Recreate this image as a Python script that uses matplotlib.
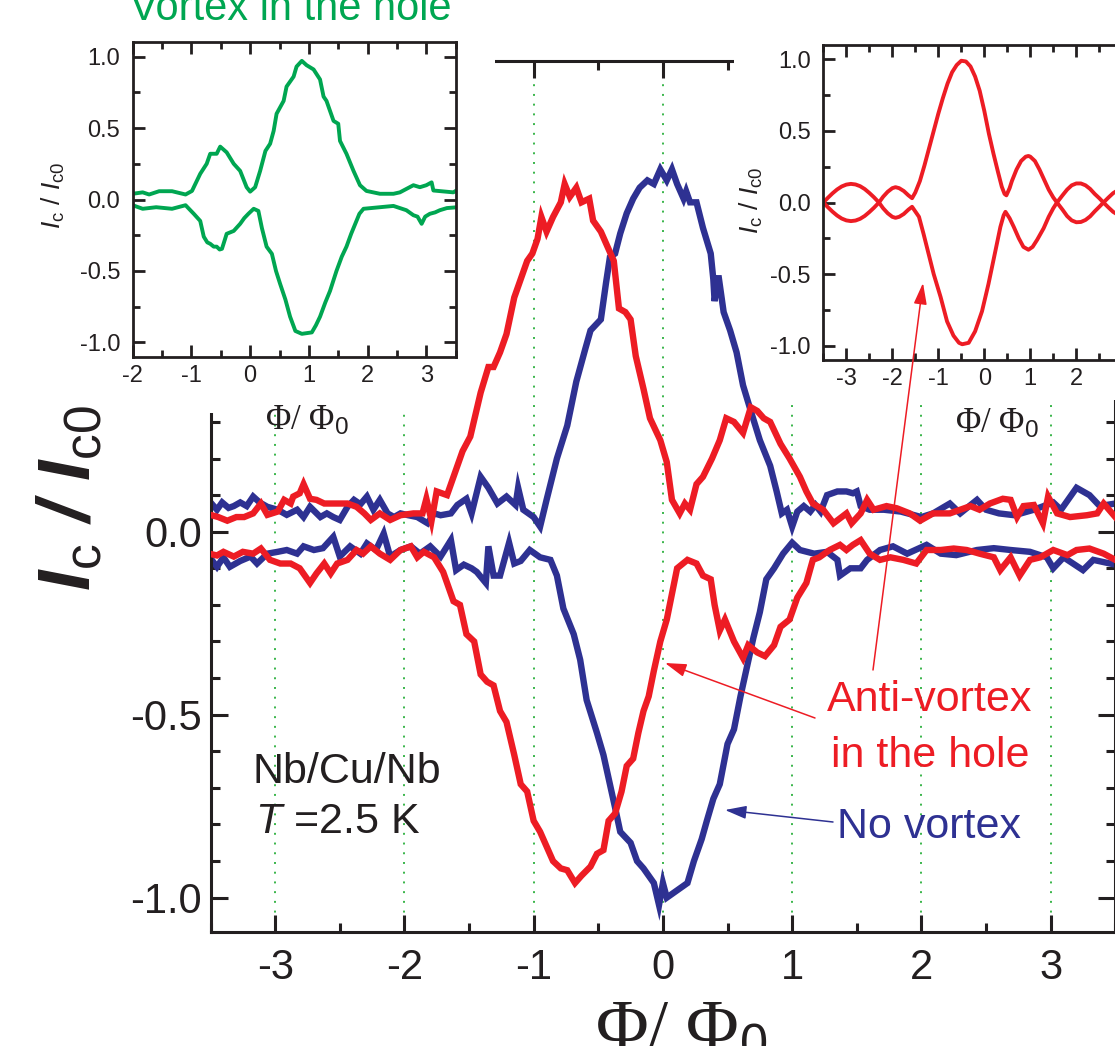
import numpy as np
import matplotlib.pyplot as plt
from matplotlib.patches import Rectangle, FancyArrowPatch
from matplotlib.ticker import MultipleLocator, FixedLocator, FormatStrFormatter

plt.rcParams['font.family'] = ['Liberation Sans', 'DejaVu Sans']
plt.rcParams['axes.unicode_minus'] = False
plt.rcParams['mathtext.fontset'] = 'custom'
plt.rcParams['mathtext.rm'] = 'Liberation Sans'
plt.rcParams['mathtext.it'] = 'Liberation Sans:italic'
plt.rcParams['mathtext.bf'] = 'Liberation Sans:bold'
HAS_BFIT = 'mathtext.bfit' in plt.rcParams
if HAS_BFIT:
    plt.rcParams['mathtext.bfit'] = 'Liberation Sans:italic:bold'

BLUE = '#2e3192'
RED = '#ed1c24'
GREEN = '#00a651'
GRID = '#39b54a'
DARK = '#231f20'

# main panel: Ic/Ic0 vs flux, (x, y) pairs
blue_upper = np.array([
    (-3.50, 0.080), (-3.45, 0.060), (-3.41, 0.080), (-3.36, 0.065), (-3.32, 0.070),
    (-3.27, 0.080), (-3.22, 0.070), (-3.17, 0.096), (-3.12, 0.080), (-3.06, 0.068),
    (-2.98, 0.060), (-2.91, 0.046), (-2.83, 0.060), (-2.78, 0.040), (-2.73, 0.068),
    (-2.65, 0.040), (-2.60, 0.050), (-2.55, 0.040), (-2.50, 0.032), (-2.44, 0.068),
    (-2.39, 0.087), (-2.34, 0.075), (-2.29, 0.096), (-2.24, 0.060), (-2.19, 0.087),
    (-2.13, 0.050), (-2.08, 0.040), (-2.03, 0.050), (-1.97, 0.045), (-1.90, 0.040),
    (-1.82, 0.023), (-1.77, 0.050), (-1.72, 0.045), (-1.64, 0.050), (-1.59, 0.073),
    (-1.52, 0.090), (-1.48, 0.050), (-1.41, 0.150), (-1.35, 0.120), (-1.28, 0.077),
    (-1.21, 0.096), (-1.14, 0.073), (-1.12, 0.120), (-1.08, 0.060), (-1.00, 0.040),
    (-0.95, 0.014), (-0.90, 0.087), (-0.82, 0.200), (-0.74, 0.290), (-0.67, 0.410),
    (-0.60, 0.500), (-0.56, 0.550), (-0.48, 0.580), (-0.44, 0.680), (-0.41, 0.750),
    (-0.37, 0.760), (-0.33, 0.815), (-0.28, 0.870), (-0.23, 0.910), (-0.18, 0.940),
    (-0.12, 0.960), (-0.07, 0.950), (-0.02, 0.990), (0.03, 0.960), (0.07, 0.990),
    (0.11, 0.950), (0.16, 0.910), (0.18, 0.930), (0.21, 0.900), (0.26, 0.900),
    (0.31, 0.830), (0.37, 0.760), (0.39, 0.690), (0.40, 0.630), (0.43, 0.700),
    (0.47, 0.600), (0.52, 0.550), (0.57, 0.490), (0.62, 0.400), (0.68, 0.330),
    (0.75, 0.250), (0.83, 0.180), (0.88, 0.110), (0.92, 0.050), (0.96, 0.060),
    (1.00, 0.014), (1.04, 0.055), (1.09, 0.070), (1.14, 0.055), (1.18, 0.073),
    (1.22, 0.055), (1.27, 0.100), (1.35, 0.110), (1.42, 0.110), (1.47, 0.105),
    (1.50, 0.110), (1.53, 0.070), (1.60, 0.060), (1.71, 0.060), (1.84, 0.055),
    (2.00, 0.040), (2.09, 0.050), (2.22, 0.077), (2.30, 0.050), (2.43, 0.087),
    (2.50, 0.060), (2.60, 0.050), (2.72, 0.045), (2.87, 0.060), (3.02, 0.080),
    (3.08, 0.060), (3.20, 0.120), (3.30, 0.100), (3.38, 0.070), (3.50, 0.077),
])

blue_lower = np.array([
    (-3.51, -0.068), (-3.45, -0.096), (-3.40, -0.070), (-3.35, -0.096), (-3.27, -0.080),
    (-3.19, -0.068), (-3.14, -0.087), (-3.06, -0.060), (-2.98, -0.055), (-2.91, -0.050),
    (-2.83, -0.060), (-2.78, -0.040), (-2.70, -0.050), (-2.63, -0.045), (-2.55, -0.014),
    (-2.50, -0.068), (-2.42, -0.040), (-2.34, -0.060), (-2.29, -0.032), (-2.22, -0.050),
    (-2.16, -0.005), (-2.11, -0.068), (-2.03, -0.050), (-1.95, -0.040), (-1.88, -0.060),
    (-1.80, -0.040), (-1.72, -0.068), (-1.67, -0.040), (-1.64, -0.023), (-1.60, -0.105),
    (-1.54, -0.090), (-1.48, -0.100), (-1.44, -0.110), (-1.37, -0.140), (-1.35, -0.040),
    (-1.31, -0.120), (-1.26, -0.120), (-1.19, -0.030), (-1.15, -0.087), (-1.10, -0.080),
    (-1.03, -0.050), (-0.95, -0.070), (-0.87, -0.077), (-0.82, -0.120), (-0.77, -0.210),
    (-0.69, -0.280), (-0.64, -0.350), (-0.59, -0.460), (-0.51, -0.550), (-0.46, -0.610),
    (-0.41, -0.690), (-0.36, -0.770), (-0.33, -0.820), (-0.25, -0.850), (-0.20, -0.900),
    (-0.15, -0.920), (-0.07, -0.960), (-0.03, -1.020), (0.00, -0.960), (0.03, -1.000),
    (0.11, -0.980), (0.19, -0.960), (0.24, -0.900), (0.30, -0.840), (0.34, -0.790),
    (0.39, -0.730), (0.44, -0.690), (0.50, -0.580), (0.55, -0.540), (0.60, -0.450),
    (0.65, -0.370), (0.70, -0.290), (0.75, -0.220), (0.80, -0.130), (0.86, -0.100),
    (0.93, -0.060), (1.00, -0.030), (1.06, -0.050), (1.17, -0.060), (1.27, -0.055),
    (1.35, -0.077), (1.37, -0.120), (1.45, -0.100), (1.53, -0.100), (1.58, -0.077),
    (1.68, -0.050), (1.78, -0.040), (1.89, -0.060), (2.04, -0.036), (2.15, -0.060),
    (2.27, -0.064), (2.43, -0.050), (2.56, -0.045), (2.69, -0.050), (2.84, -0.055),
    (2.97, -0.070), (3.02, -0.100), (3.10, -0.070), (3.25, -0.105), (3.33, -0.077),
    (3.50, -0.090),
])

red_upper = np.array([
    (-3.50, 0.046), (-3.44, 0.040), (-3.37, 0.030), (-3.30, 0.040), (-3.24, 0.040),
    (-3.17, 0.050), (-3.11, 0.077), (-3.06, 0.046), (-2.98, 0.055), (-2.93, 0.087),
    (-2.88, 0.077), (-2.86, 0.096), (-2.81, 0.105), (-2.78, 0.130), (-2.73, 0.090),
    (-2.68, 0.087), (-2.62, 0.077), (-2.55, 0.077), (-2.44, 0.077), (-2.37, 0.068),
    (-2.31, 0.050), (-2.26, 0.032), (-2.19, 0.050), (-2.11, 0.032), (-2.03, 0.045),
    (-1.93, 0.050), (-1.86, 0.050), (-1.83, 0.090), (-1.79, 0.030), (-1.75, 0.110),
    (-1.67, 0.100), (-1.62, 0.150), (-1.55, 0.220), (-1.49, 0.260), (-1.41, 0.380),
    (-1.35, 0.450), (-1.31, 0.450), (-1.26, 0.490), (-1.21, 0.540), (-1.15, 0.640),
    (-1.10, 0.690), (-1.05, 0.740), (-1.01, 0.760), (-0.97, 0.800), (-0.94, 0.860),
    (-0.90, 0.820), (-0.85, 0.860), (-0.79, 0.900), (-0.76, 0.950), (-0.72, 0.915),
    (-0.67, 0.940), (-0.63, 0.900), (-0.57, 0.910), (-0.54, 0.850), (-0.48, 0.820),
    (-0.43, 0.780), (-0.38, 0.740), (-0.34, 0.610), (-0.29, 0.600), (-0.25, 0.580),
    (-0.21, 0.480), (-0.15, 0.390), (-0.10, 0.310), (-0.02, 0.250), (0.03, 0.190),
    (0.07, 0.087), (0.13, 0.050), (0.17, 0.077), (0.21, 0.060), (0.26, 0.130),
    (0.31, 0.150), (0.38, 0.200), (0.44, 0.250), (0.49, 0.310), (0.55, 0.300),
    (0.62, 0.270), (0.68, 0.340), (0.73, 0.330), (0.78, 0.310), (0.83, 0.300),
    (0.91, 0.240), (0.98, 0.200), (1.06, 0.150), (1.11, 0.110), (1.16, 0.077),
    (1.24, 0.060), (1.32, 0.023), (1.42, 0.050), (1.46, 0.023), (1.53, 0.050),
    (1.58, 0.087), (1.63, 0.060), (1.73, 0.070), (1.81, 0.064), (1.91, 0.050),
    (1.99, 0.030), (2.09, 0.050), (2.22, 0.050), (2.38, 0.070), (2.45, 0.060),
    (2.53, 0.077), (2.63, 0.090), (2.69, 0.087), (2.74, 0.040), (2.79, 0.070),
    (2.87, 0.073), (2.94, 0.023), (2.98, 0.096), (3.05, 0.050), (3.15, 0.040),
    (3.28, 0.045), (3.36, 0.050), (3.41, 0.077), (3.50, 0.040),
])

red_lower = np.array([
    (-3.51, -0.060), (-3.45, -0.065), (-3.40, -0.055), (-3.32, -0.068), (-3.25, -0.055),
    (-3.17, -0.060), (-3.11, -0.046), (-3.04, -0.077), (-2.96, -0.087), (-2.88, -0.087),
    (-2.81, -0.100), (-2.73, -0.140), (-2.68, -0.114), (-2.62, -0.087), (-2.57, -0.114),
    (-2.52, -0.087), (-2.44, -0.077), (-2.37, -0.050), (-2.32, -0.060), (-2.26, -0.040),
    (-2.19, -0.060), (-2.11, -0.077), (-2.03, -0.050), (-1.95, -0.040), (-1.90, -0.070),
    (-1.85, -0.055), (-1.77, -0.070), (-1.70, -0.110), (-1.62, -0.190), (-1.57, -0.200),
    (-1.52, -0.280), (-1.46, -0.300), (-1.41, -0.390), (-1.36, -0.410), (-1.31, -0.420),
    (-1.26, -0.490), (-1.21, -0.520), (-1.15, -0.610), (-1.10, -0.690), (-1.05, -0.710),
    (-1.00, -0.790), (-0.95, -0.820), (-0.90, -0.860), (-0.85, -0.900), (-0.79, -0.920),
    (-0.74, -0.925), (-0.68, -0.960), (-0.63, -0.940), (-0.56, -0.915), (-0.51, -0.880),
    (-0.46, -0.870), (-0.42, -0.790), (-0.37, -0.770), (-0.32, -0.710), (-0.28, -0.640),
    (-0.23, -0.620), (-0.19, -0.550), (-0.15, -0.490), (-0.11, -0.450), (-0.07, -0.380),
    (-0.02, -0.300), (0.03, -0.240), (0.07, -0.170), (0.11, -0.100), (0.19, -0.077),
    (0.26, -0.087), (0.31, -0.120), (0.37, -0.130), (0.40, -0.200), (0.44, -0.270),
    (0.48, -0.240), (0.55, -0.300), (0.62, -0.345), (0.66, -0.310), (0.73, -0.330),
    (0.79, -0.340), (0.86, -0.310), (0.91, -0.260), (0.98, -0.240), (1.04, -0.180),
    (1.11, -0.140), (1.16, -0.077), (1.21, -0.070), (1.29, -0.050), (1.37, -0.036),
    (1.42, -0.050), (1.47, -0.036), (1.53, -0.023), (1.60, -0.060), (1.68, -0.077),
    (1.76, -0.070), (1.86, -0.077), (1.96, -0.087), (2.04, -0.050), (2.15, -0.050),
    (2.25, -0.046), (2.35, -0.050), (2.45, -0.060), (2.56, -0.070), (2.61, -0.105),
    (2.69, -0.070), (2.76, -0.120), (2.84, -0.077), (2.92, -0.070), (3.02, -0.050),
    (3.13, -0.064), (3.20, -0.050), (3.30, -0.046), (3.41, -0.060), (3.50, -0.077),
])

# left inset: vortex in the hole
green_upper = np.array([
    (-2.00, 0.040), (-1.83, 0.050), (-1.72, 0.035), (-1.55, 0.058), (-1.33, 0.058),
    (-1.10, 0.035), (-0.99, 0.060), (-0.96, 0.086), (-0.85, 0.180), (-0.74, 0.250),
    (-0.68, 0.320), (-0.57, 0.320), (-0.51, 0.370), (-0.40, 0.330), (-0.28, 0.250),
    (-0.17, 0.200), (-0.06, 0.086), (0.00, 0.055), (0.085, 0.086), (0.17, 0.200),
    (0.26, 0.340), (0.34, 0.390), (0.40, 0.480), (0.45, 0.600), (0.57, 0.690),
    (0.62, 0.790), (0.74, 0.860), (0.79, 0.930), (0.88, 0.970), (0.96, 0.940),
    (1.08, 0.910), (1.19, 0.840), (1.25, 0.720), (1.30, 0.690), (1.42, 0.550),
    (1.50, 0.530), (1.53, 0.410), (1.64, 0.320), (1.76, 0.200), (1.87, 0.100),
    (1.98, 0.060), (2.21, 0.040), (2.44, 0.040), (2.55, 0.050), (2.78, 0.100),
    (2.89, 0.086), (3.00, 0.100), (3.09, 0.120), (3.12, 0.063), (3.46, 0.050),
    (3.50, 0.060),
])

green_lower = np.array([
    (-2.00, -0.040), (-1.83, -0.065), (-1.60, -0.054), (-1.33, -0.065), (-1.10, -0.040),
    (-0.96, -0.100), (-0.85, -0.150), (-0.79, -0.260), (-0.73, -0.300), (-0.68, -0.310),
    (-0.62, -0.330), (-0.57, -0.330), (-0.52, -0.350), (-0.48, -0.345), (-0.43, -0.280),
    (-0.40, -0.240), (-0.28, -0.220), (-0.17, -0.170), (-0.10, -0.130), (-0.03, -0.100),
    (0.06, -0.065), (0.14, -0.080), (0.20, -0.200), (0.28, -0.330), (0.37, -0.380),
    (0.44, -0.500), (0.51, -0.590), (0.60, -0.700), (0.68, -0.820), (0.77, -0.920),
    (0.88, -0.940), (1.05, -0.930), (1.12, -0.880), (1.19, -0.820), (1.28, -0.720),
    (1.36, -0.640), (1.47, -0.500), (1.56, -0.400), (1.64, -0.330), (1.72, -0.240),
    (1.79, -0.170), (1.86, -0.100), (1.93, -0.065), (2.21, -0.054), (2.44, -0.045),
    (2.55, -0.060), (2.66, -0.075), (2.78, -0.110), (2.85, -0.120), (2.92, -0.170),
    (2.98, -0.120), (3.06, -0.100), (3.15, -0.090), (3.23, -0.075), (3.35, -0.060),
    (3.50, -0.055),
])

# right inset: calculated anti-vortex pattern
calc_upper = np.array([
    (-3.50, 0.000), (-3.40, 0.033), (-3.30, 0.064), (-3.20, 0.091), (-3.10, 0.112),
    (-3.00, 0.125), (-2.90, 0.130), (-2.80, 0.126), (-2.70, 0.114), (-2.60, 0.094),
    (-2.50, 0.067), (-2.40, 0.037), (-2.29, 0.000), (-2.20, 0.040), (-2.10, 0.075),
    (-2.00, 0.100), (-1.93, 0.107), (-1.85, 0.100), (-1.75, 0.080), (-1.65, 0.050),
    (-1.57, 0.030), (-1.50, 0.070), (-1.40, 0.150), (-1.30, 0.260), (-1.20, 0.380),
    (-1.10, 0.500), (-1.00, 0.620), (-0.90, 0.730), (-0.80, 0.830), (-0.70, 0.910),
    (-0.60, 0.960), (-0.50, 0.990), (-0.40, 0.985), (-0.30, 0.950), (-0.20, 0.880),
    (-0.10, 0.780), (0.00, 0.640), (0.10, 0.480), (0.20, 0.340), (0.30, 0.210),
    (0.38, 0.110), (0.44, 0.060), (0.48, 0.050), (0.55, 0.100), (0.60, 0.150),
    (0.70, 0.230), (0.80, 0.290), (0.90, 0.320), (0.96, 0.325), (1.00, 0.320),
    (1.10, 0.290), (1.20, 0.230), (1.30, 0.160), (1.40, 0.090), (1.50, 0.035),
    (1.58, 0.000), (1.70, 0.050), (1.80, 0.090), (1.90, 0.120), (2.00, 0.133),
    (2.10, 0.133), (2.20, 0.120), (2.30, 0.095), (2.40, 0.060), (2.50, 0.030),
    (2.59, 0.000), (2.70, 0.035), (2.80, 0.065), (2.90, 0.085), (3.00, 0.092),
    (3.10, 0.090), (3.20, 0.075), (3.30, 0.050), (3.40, 0.025), (3.50, 0.005),
])

calc_lower = np.array([
    (-3.50, 0.000), (-3.40, -0.033), (-3.30, -0.064), (-3.20, -0.091), (-3.10, -0.112),
    (-3.00, -0.125), (-2.90, -0.130), (-2.80, -0.126), (-2.70, -0.114), (-2.60, -0.094),
    (-2.50, -0.067), (-2.40, -0.037), (-2.29, 0.000), (-2.20, -0.040), (-2.10, -0.075),
    (-2.00, -0.100), (-1.93, -0.107), (-1.85, -0.100), (-1.75, -0.080), (-1.65, -0.050),
    (-1.57, -0.030), (-1.42, -0.100), (-1.32, -0.220), (-1.21, -0.360), (-1.10, -0.500),
    (-0.95, -0.660), (-0.81, -0.830), (-0.67, -0.930), (-0.55, -0.980), (-0.48, -0.990),
    (-0.34, -0.980), (-0.20, -0.900), (-0.05, -0.760), (0.09, -0.570), (0.24, -0.340),
    (0.35, -0.170), (0.42, -0.090), (0.46, -0.065), (0.55, -0.110), (0.64, -0.170),
    (0.75, -0.250), (0.85, -0.310), (0.96, -0.330), (1.05, -0.310), (1.15, -0.260),
    (1.29, -0.180), (1.40, -0.100), (1.50, -0.040), (1.58, 0.000), (1.70, -0.050),
    (1.80, -0.095), (1.90, -0.125), (2.00, -0.138), (2.10, -0.136), (2.20, -0.122),
    (2.30, -0.097), (2.40, -0.062), (2.50, -0.030), (2.59, 0.000), (2.70, -0.035),
    (2.80, -0.065), (2.90, -0.085), (3.00, -0.092), (3.10, -0.090), (3.20, -0.075),
    (3.30, -0.050), (3.40, -0.025), (3.50, -0.005),
])

grid_x = [-3, -2, -1, 0, 1, 2, 3]
main_yticks = [-1.0, -0.5, 0.0]

W, H = 1115, 1046


def fx(px):
    return px / W


def fy(py):
    return 1 - py / H


def style_axes(ax, xmaj, xmin, ymaj, ymin, lw, lmaj, lmin, size, xpad, ypad):
    ax.xaxis.set_major_locator(MultipleLocator(xmaj))
    ax.xaxis.set_minor_locator(MultipleLocator(xmin))
    ax.yaxis.set_major_locator(MultipleLocator(ymaj))
    ax.yaxis.set_minor_locator(MultipleLocator(ymin))
    ax.xaxis.set_major_formatter(FormatStrFormatter('%d'))
    ax.yaxis.set_major_formatter(FormatStrFormatter('%.1f'))
    ax.tick_params(which='both', direction='in', top=True, right=True,
                   width=lw, color=DARK, labelcolor=DARK)
    ax.tick_params(which='major', length=lmaj, labelsize=size)
    ax.tick_params(which='minor', length=lmin)
    ax.tick_params(axis='x', pad=xpad)
    ax.tick_params(axis='y', pad=ypad)
    for s in ax.spines.values():
        s.set_linewidth(lw)
        s.set_color(DARK)


fig = plt.figure(figsize=(W / 100, H / 100), dpi=100)

# main panel
ax = fig.add_axes([fx(210.5), fy(931.7), (1115.3 - 210.5) / W, (931.7 - 60.7) / H])
for gx in grid_x:
    ax.axvline(gx, color=GRID, lw=1.4, ls=(0, (1, 4)), zorder=1)
for arr in (blue_upper, blue_lower):
    ax.plot(arr[:, 0], arr[:, 1], color=BLUE, lw=4.6, zorder=2, solid_joinstyle='miter')
for arr in (red_upper, red_lower):
    ax.plot(arr[:, 0], arr[:, 1], color=RED, lw=4.6, zorder=3, solid_joinstyle='miter')
ax.set_xlim(-3.5, 3.5)
ax.set_ylim(-1.093, 1.287)
style_axes(ax, 1, 0.5, 0.5, 0.1, 2.2, 12.5, 6.5, 30, 12, 6)
ax.yaxis.set_major_locator(FixedLocator(main_yticks))

# white areas behind the insets
for x0, y0, x1, y1 in [(0, 0, 460, 413), (0, 0, 495, 75),
                       (742, 0, W, 362), (765, 362, W, 400), (734, 0, W, 75)]:
    fig.add_artist(Rectangle((fx(x0), fy(y1)), (x1 - x0) / W, (y1 - y0) / H,
                             transform=fig.transFigure, facecolor='white',
                             edgecolor='none', zorder=1))

# left inset
ax1 = fig.add_axes([fx(132.7), fy(356.7), (455.7 - 132.7) / W, (356.7 - 42.3) / H])
ax1.set_zorder(2)
for arr in (green_upper, green_lower):
    ax1.plot(arr[:, 0], arr[:, 1], color=GREEN, lw=2.8)
ax1.set_xlim(-2, 3.5)
ax1.set_ylim(-1.1, 1.1)
style_axes(ax1, 1, 0.5, 0.5, 0.25, 2.0, 8.5, 5, 17, 6, 9)

# right inset
ax2 = fig.add_axes([fx(823.3), fy(360), (1145.3 - 823.3) / W, (360 - 45) / H])
ax2.set_zorder(2)
for arr in (calc_upper, calc_lower):
    ax2.plot(arr[:, 0], arr[:, 1], color=RED, lw=2.8)
ax2.set_xlim(-3.5, 3.5)
ax2.set_ylim(-1.1, 1.1)
style_axes(ax2, 1, 0.5, 0.5, 0.25, 2.0, 8.5, 5, 17, 6, 9)
ax2.xaxis.set_major_locator(FixedLocator([-3, -2, -1, 0, 1, 2]))

# labels
if HAS_BFIT:
    ylab = r'$\mathbfit{I}_{\mathrm{c}}\ \mathbfit{/}\ \mathbfit{I}_{\mathrm{c0}}$'
else:
    ylab = r'$\mathbf{I}_{\mathrm{c}}\ \mathbf{/}\ \mathbf{I}_{\mathrm{c0}}$'
fig.text(fx(70), fy(498), ylab, rotation=90, ha='center', va='center',
         fontsize=53, color=DARK)
fig.text(fx(681), fy(999), 'Φ/ Φ$_0$', ha='center', va='top', fontsize=52,
         family='Liberation Serif', color=DARK)

inset_ylab = r'$I_{\mathrm{c}}\ /\ I_{\mathrm{c0}}$'
fig.text(fx(53), fy(195), inset_ylab, rotation=90, ha='center', va='center',
         fontsize=19, color=DARK, zorder=4)
fig.text(fx(751), fy(200), inset_ylab, rotation=90, ha='center', va='center',
         fontsize=19, color=DARK, zorder=4)
fig.text(fx(307), fy(420), 'Φ/ Φ$_0$', ha='center', va='center', fontsize=25,
         family='Liberation Serif', color=DARK, zorder=4)
fig.text(fx(997), fy(423), 'Φ/ Φ$_0$', ha='center', va='center', fontsize=25,
         family='Liberation Serif', color=DARK, zorder=4)
fig.text(fx(291), fy(20), 'Vortex in the hole', ha='center', va='baseline',
         fontsize=30, color=GREEN, zorder=4)

fig.text(fx(252), fy(783), 'Nb/Cu/Nb', va='baseline', fontsize=31, color=DARK, zorder=4)
fig.text(fx(255), fy(833), r'$T$ =2.5 K', va='baseline', fontsize=31, color=DARK, zorder=4)
fig.text(fx(930), fy(711), 'Anti-vortex', ha='center', va='baseline', fontsize=31,
         color=RED, zorder=4)
fig.text(fx(930), fy(767), 'in the hole', ha='center', va='baseline', fontsize=31,
         color=RED, zorder=4)
fig.text(fx(929), fy(838), 'No vortex', ha='center', va='baseline', fontsize=31,
         color=BLUE, zorder=4)

# arrows from the labels
for tail, head, col in [((833, 822), (725, 810), BLUE),
                        ((815, 718), (665, 663), RED),
                        ((873, 670), (923, 283), RED)]:
    fig.add_artist(FancyArrowPatch((fx(tail[0]), fy(tail[1])), (fx(head[0]), fy(head[1])),
                                   transform=fig.transFigure,
                                   arrowstyle='-|>,head_length=0.65,head_width=0.2',
                                   mutation_scale=20, color=col, lw=1.1,
                                   shrinkA=0, shrinkB=0, zorder=5))

fig.savefig('out.png', dpi=100)
